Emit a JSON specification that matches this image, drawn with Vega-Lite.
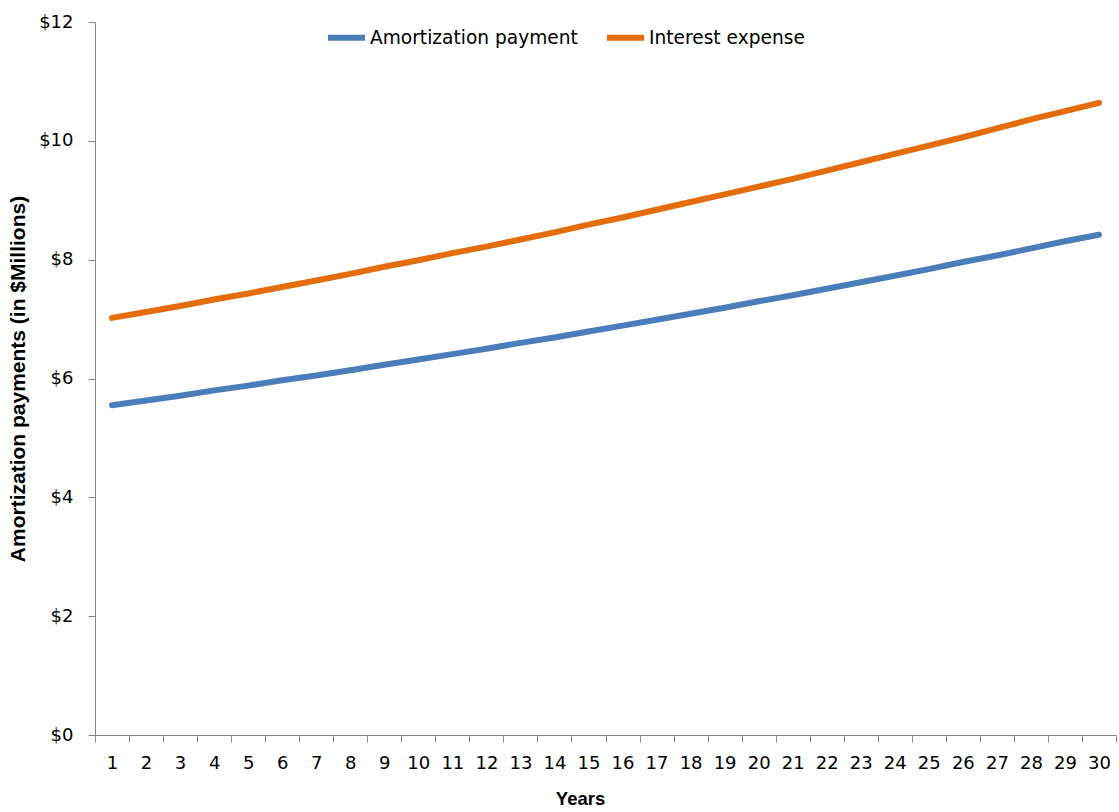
{
  "$schema": "https://vega.github.io/schema/vega-lite/v6.json",
  "autosize": {"type": "none"},
  "padding": {"left": 95, "top": 22, "right": 3, "bottom": 77},
  "width": 1021,
  "height": 713,
  "background": "white",
  "config": {
    "view": {"stroke": null},
    "font": "DejaVu Sans"
  },
  "data": {
    "values": [
      {"year": 1, "series": "Amortization payment", "value": 5.55},
      {"year": 2, "series": "Amortization payment", "value": 5.63},
      {"year": 3, "series": "Amortization payment", "value": 5.71},
      {"year": 4, "series": "Amortization payment", "value": 5.80},
      {"year": 5, "series": "Amortization payment", "value": 5.88},
      {"year": 6, "series": "Amortization payment", "value": 5.97},
      {"year": 7, "series": "Amortization payment", "value": 6.05},
      {"year": 8, "series": "Amortization payment", "value": 6.14},
      {"year": 9, "series": "Amortization payment", "value": 6.23},
      {"year": 10, "series": "Amortization payment", "value": 6.32},
      {"year": 11, "series": "Amortization payment", "value": 6.41},
      {"year": 12, "series": "Amortization payment", "value": 6.50},
      {"year": 13, "series": "Amortization payment", "value": 6.60},
      {"year": 14, "series": "Amortization payment", "value": 6.69},
      {"year": 15, "series": "Amortization payment", "value": 6.79},
      {"year": 16, "series": "Amortization payment", "value": 6.89},
      {"year": 17, "series": "Amortization payment", "value": 6.99},
      {"year": 18, "series": "Amortization payment", "value": 7.09},
      {"year": 19, "series": "Amortization payment", "value": 7.19},
      {"year": 20, "series": "Amortization payment", "value": 7.30},
      {"year": 21, "series": "Amortization payment", "value": 7.40},
      {"year": 22, "series": "Amortization payment", "value": 7.51},
      {"year": 23, "series": "Amortization payment", "value": 7.62},
      {"year": 24, "series": "Amortization payment", "value": 7.73},
      {"year": 25, "series": "Amortization payment", "value": 7.84},
      {"year": 26, "series": "Amortization payment", "value": 7.96},
      {"year": 27, "series": "Amortization payment", "value": 8.07},
      {"year": 28, "series": "Amortization payment", "value": 8.19},
      {"year": 29, "series": "Amortization payment", "value": 8.31},
      {"year": 30, "series": "Amortization payment", "value": 8.42},
      {"year": 1, "series": "Interest expense", "value": 7.02},
      {"year": 2, "series": "Interest expense", "value": 7.12},
      {"year": 3, "series": "Interest expense", "value": 7.22},
      {"year": 4, "series": "Interest expense", "value": 7.33},
      {"year": 5, "series": "Interest expense", "value": 7.43},
      {"year": 6, "series": "Interest expense", "value": 7.54},
      {"year": 7, "series": "Interest expense", "value": 7.65},
      {"year": 8, "series": "Interest expense", "value": 7.76},
      {"year": 9, "series": "Interest expense", "value": 7.88},
      {"year": 10, "series": "Interest expense", "value": 7.99},
      {"year": 11, "series": "Interest expense", "value": 8.11},
      {"year": 12, "series": "Interest expense", "value": 8.22},
      {"year": 13, "series": "Interest expense", "value": 8.34},
      {"year": 14, "series": "Interest expense", "value": 8.46},
      {"year": 15, "series": "Interest expense", "value": 8.59},
      {"year": 16, "series": "Interest expense", "value": 8.71},
      {"year": 17, "series": "Interest expense", "value": 8.84},
      {"year": 18, "series": "Interest expense", "value": 8.97},
      {"year": 19, "series": "Interest expense", "value": 9.10},
      {"year": 20, "series": "Interest expense", "value": 9.23},
      {"year": 21, "series": "Interest expense", "value": 9.36},
      {"year": 22, "series": "Interest expense", "value": 9.50},
      {"year": 23, "series": "Interest expense", "value": 9.64},
      {"year": 24, "series": "Interest expense", "value": 9.78},
      {"year": 25, "series": "Interest expense", "value": 9.92},
      {"year": 26, "series": "Interest expense", "value": 10.06},
      {"year": 27, "series": "Interest expense", "value": 10.21},
      {"year": 28, "series": "Interest expense", "value": 10.36},
      {"year": 29, "series": "Interest expense", "value": 10.50},
      {"year": 30, "series": "Interest expense", "value": 10.64}
    ]
  },
  "mark": {"type": "line", "strokeWidth": 6, "strokeCap": "round", "strokeJoin": "round"},
  "encoding": {
    "x": {
      "field": "year",
      "type": "ordinal",
      "sort": "ascending",
      "scale": {"type": "band", "paddingInner": 0, "paddingOuter": 0},
      "axis": {
        "title": "Years",
        "titleFont": "Liberation Sans",
        "titleFontSize": 18.5,
        "titleFontWeight": "bold",
        "titleColor": "black",
        "titlePadding": 17,
        "titleX": 485,
        "titleAlign": "center",
        "labelAngle": 0,
        "labelFontSize": 18,
        "labelColor": "black",
        "labelPadding": 12,
        "tickBand": "extent",
        "tickSize": 7,
        "tickColor": "#868686",
        "domainColor": "#868686",
        "grid": false
      }
    },
    "y": {
      "field": "value",
      "type": "quantitative",
      "scale": {"domain": [0, 12]},
      "axis": {
        "title": "Amortization payments (in $Millions)",
        "titleFont": "Liberation Sans",
        "titleFontSize": 21,
        "titleFontWeight": "bold",
        "titleColor": "black",
        "titlePadding": 10,
        "values": [0, 2, 4, 6, 8, 10, 12],
        "labelExpr": "'$' + datum.value",
        "labelFontSize": 18,
        "labelColor": "black",
        "labelPadding": 15,
        "tickSize": 7,
        "tickColor": "#868686",
        "domainColor": "#868686",
        "grid": false
      }
    },
    "color": {
      "field": "series",
      "type": "nominal",
      "scale": {"domain": ["Amortization payment", "Interest expense"], "range": ["#4a7ebb", "#e46c0a"]},
      "legend": {
        "title": null,
        "orient": "none",
        "direction": "horizontal",
        "legendX": 230,
        "legendY": -6,
        "symbolType": "stroke",
        "symbolSize": 1369,
        "symbolStrokeWidth": 6,
        "labelFontSize": 18.6,
        "labelColor": "black",
        "labelOffset": 2,
        "labelLimit": 500,
        "columnPadding": 17,
        "padding": 0
      }
    }
  }
}
